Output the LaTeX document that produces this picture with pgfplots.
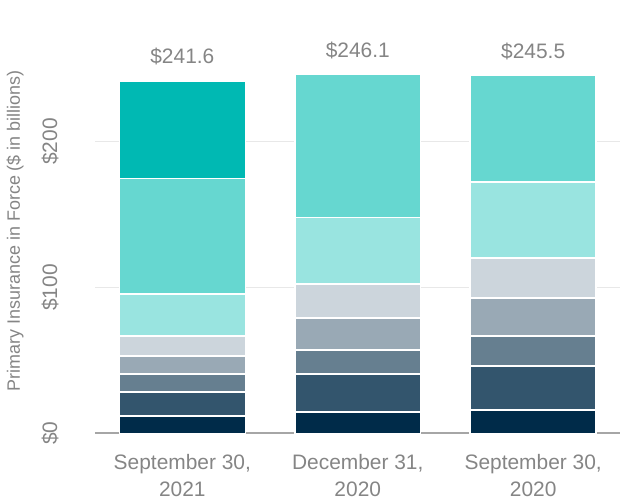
\documentclass[border=0pt]{standalone}
\usepackage{pgfplots}
\pgfplotsset{compat=1.18}
\usepackage{fontspec}
\setmainfont{Liberation Sans}
\definecolor{c1}{HTML}{002B49}
\definecolor{c2}{HTML}{33556D}
\definecolor{c3}{HTML}{667F90}
\definecolor{c4}{HTML}{99A9B5}
\definecolor{c5}{HTML}{CCD5DC}
\definecolor{c6}{HTML}{99E4E0}
\definecolor{c7}{HTML}{66D7D0}
\definecolor{c8}{HTML}{00B9B3}
\definecolor{txt}{HTML}{858585}
\definecolor{axgray}{HTML}{A6A6A6}
\definecolor{gridgray}{HTML}{E8E8E8}
\begin{document}
\begin{tikzpicture}
\useasboundingbox (-95bp,-66.7bp) rectangle (535bp,433.3bp);
\begin{axis}[
  scale only axis, width=525bp, height=386.5bp,
  xmin=-0.498, xmax=2.495, ymin=0, ymax=265,
  clip=false,
  ybar stacked, bar width=0.718,
  xtick={0,1,2},
  xticklabels={{September 30,\\2021},{December 31,\\2020},{September 30,\\2020}},
  xticklabel style={yshift=-18bp, align=center, font=\fontsize{21}{26.5}\selectfont, text=txt},
  ytick={0,100,200}, yticklabels={\$0,\$100,\$200},
  yticklabel style={xshift=-33bp, rotate=90, anchor=south, font=\fontsize{21}{25}\selectfont, text=txt},
  axis x line*=bottom, axis y line*=left,
  x axis line style={draw=axgray, line width=2bp, -},
  y axis line style={draw=none},
  tick style={draw=none},
  ymajorgrids, grid style={draw=gridgray, line width=1.5bp},
  ylabel={Primary Insurance in Force (\$ in billions)},
  every axis y label/.style={at={(axis description cs:-0.152,0.524)}, anchor=center, rotate=90, font=\fontsize{18}{20}\selectfont, text=txt},
  every axis plot/.append style={draw=white, line width=1.5bp},
]
\addplot[fill=c1] coordinates {(0,11.9) (1,14.7) (2,16.0)};
\addplot[fill=c2] coordinates {(0,16.5) (1,26.0) (2,30.2)};
\addplot[fill=c3] coordinates {(0,12.3) (1,16.5) (2,20.6)};
\addplot[fill=c4] coordinates {(0,12.4) (1,21.9) (2,26.0)};
\addplot[fill=c5] coordinates {(0,13.7) (1,23.3) (2,27.5)};
\addplot[fill=c6] coordinates {(0,28.8) (1,45.7) (2,52.1)};
\addplot[fill=c7] coordinates {(0,79.0) (1,98.0) (2,73.1)};
\addplot[fill=c8] coordinates {(0,67.0) (1,0) (2,0)};
\node[font=\fontsize{21}{25}\selectfont, text=txt, anchor=base] at (axis cs:0,253.3) {\$241.6};
\node[font=\fontsize{21}{25}\selectfont, text=txt, anchor=base] at (axis cs:1,257.8) {\$246.1};
\node[font=\fontsize{21}{25}\selectfont, text=txt, anchor=base] at (axis cs:2,257.2) {\$245.5};
\end{axis}
\end{tikzpicture}
\end{document}
